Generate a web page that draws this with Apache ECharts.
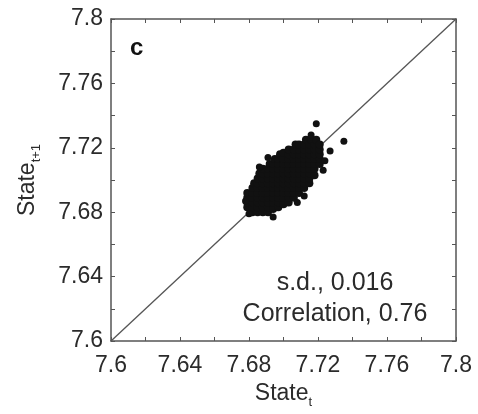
<!DOCTYPE html>
<html>
<head>
<meta charset="utf-8">
<script src="https://cdn.jsdelivr.net/npm/echarts@6/dist/echarts.min.js"></script>
<style>
  html, body { margin:0; padding:0; background:#fff; }
  #chart { width:478px; height:414px; }
</style>
</head>
<body>
<div id="chart"></div>
<script>
// axis range and ticks
var axisMin = 7.6;
var axisMax = 7.8;
var tickStep = 0.04;

// dense core of the cloud
var cloud = [
  [7.679,7.683],[7.679,7.686],[7.679,7.689],[7.679,7.692],
  [7.682,7.680],[7.682,7.683],[7.682,7.686],[7.682,7.689],[7.682,7.692],[7.682,7.695],[7.683,7.698],
  [7.685,7.680],[7.685,7.683],[7.685,7.686],[7.685,7.689],[7.685,7.692],[7.685,7.695],[7.685,7.698],[7.685,7.701],[7.686,7.704],
  [7.688,7.680],[7.688,7.683],[7.688,7.686],[7.688,7.689],[7.688,7.692],[7.688,7.695],[7.688,7.698],[7.688,7.701],[7.688,7.704],[7.688,7.707],
  [7.691,7.680],[7.691,7.683],[7.691,7.686],[7.691,7.689],[7.691,7.692],[7.691,7.695],[7.691,7.698],[7.691,7.701],[7.691,7.704],[7.691,7.707],[7.692,7.710],
  [7.694,7.682],[7.694,7.686],[7.694,7.689],[7.694,7.692],[7.694,7.695],[7.694,7.698],[7.694,7.701],[7.694,7.704],[7.694,7.707],[7.694,7.710],[7.695,7.713],
  [7.697,7.683],[7.697,7.686],[7.697,7.689],[7.697,7.692],[7.697,7.695],[7.697,7.698],[7.697,7.701],[7.697,7.704],[7.697,7.707],[7.697,7.710],[7.697,7.713],[7.698,7.716],
  [7.700,7.685],[7.700,7.689],[7.700,7.692],[7.700,7.695],[7.700,7.698],[7.700,7.701],[7.700,7.704],[7.700,7.707],[7.700,7.710],[7.700,7.713],[7.700,7.717],
  [7.703,7.686],[7.703,7.689],[7.703,7.692],[7.703,7.695],[7.703,7.698],[7.703,7.701],[7.703,7.704],[7.703,7.707],[7.703,7.710],[7.703,7.713],[7.703,7.716],[7.703,7.719],
  [7.706,7.689],[7.706,7.692],[7.706,7.695],[7.706,7.698],[7.706,7.701],[7.706,7.704],[7.706,7.707],[7.706,7.710],[7.706,7.713],[7.706,7.716],[7.706,7.719],[7.707,7.722],
  [7.709,7.692],[7.709,7.695],[7.709,7.698],[7.709,7.701],[7.709,7.704],[7.709,7.707],[7.709,7.710],[7.709,7.713],[7.709,7.716],[7.709,7.719],[7.709,7.722],
  [7.712,7.695],[7.712,7.698],[7.712,7.701],[7.712,7.704],[7.712,7.707],[7.712,7.710],[7.712,7.713],[7.712,7.716],[7.712,7.719],[7.712,7.722],[7.713,7.725],
  [7.715,7.698],[7.715,7.701],[7.715,7.704],[7.715,7.707],[7.715,7.710],[7.715,7.713],[7.715,7.716],[7.715,7.719],[7.715,7.722],[7.716,7.725],
  [7.718,7.703],[7.718,7.707],[7.718,7.710],[7.718,7.713],[7.718,7.716],[7.718,7.719],[7.718,7.722],[7.719,7.725],
  [7.721,7.710],[7.721,7.713],[7.721,7.716],[7.721,7.719],[7.721,7.722]
];

// scattered points around the edge
var outliers = [
  [7.735,7.724],[7.719,7.735],[7.694,7.677],[7.708,7.686],[7.691,7.714],
  [7.727,7.718],[7.716,7.728],[7.678,7.687],[7.724,7.712],[7.686,7.708],
  [7.712,7.690],[7.680,7.679],[7.723,7.706]
];

// identity line
var diagonal = [[7.6,7.6],[7.8,7.8]];

var notes = ['s.d., 0.016', 'Correlation, 0.76'];

var axisColor = '#555';
var textColor = '#2b2b2b';
var font = 'Liberation Sans, Arial, sans-serif';

function baseAxis(extra){
  var ax = {
    type:'value',
    min:axisMin,
    max:axisMax,
    interval:tickStep,
    axisLine:{ show:true, lineStyle:{ color:axisColor, width:1.5 } },
    axisTick:{ show:true, inside:true, length:4, lineStyle:{ color:axisColor } },
    minorTick:{ show:true, splitNumber:2, length:4, lineStyle:{ color:axisColor } },
    splitLine:{ show:false },
    axisLabel:{ show:false }
  };
  for (var k in extra) ax[k] = extra[k];
  return ax;
}

var chart = echarts.init(document.getElementById('chart'));
chart.setOption({
  backgroundColor:'#fff',
  animation:false,
  grid:{ left:111, right:22, top:19, bottom:72 },
  xAxis:[
    baseAxis({
      position:'bottom',
      axisLabel:{ show:true, color:textColor, fontSize:23, fontFamily:font, margin:13 },
      name:'{a|State}{b|t}',
      nameLocation:'middle',
      nameGap:38,
      nameTextStyle:{
        rich:{
          a:{ fontSize:23, color:textColor, fontFamily:font, lineHeight:30 },
          b:{ fontSize:13, color:textColor, fontFamily:font, lineHeight:14, verticalAlign:'bottom' }
        }
      }
    }),
    baseAxis({ position:'top' })
  ],
  yAxis:[
    baseAxis({
      position:'left',
      axisLabel:{ show:true, color:textColor, fontSize:23, fontFamily:font, margin:8 },
      name:'{a|State}{b|t+1}',
      nameLocation:'middle',
      nameGap:68,
      nameTextStyle:{
        rich:{
          a:{ fontSize:23, color:textColor, fontFamily:font, lineHeight:30 },
          b:{ fontSize:13, color:textColor, fontFamily:font, lineHeight:14, verticalAlign:'bottom' }
        }
      }
    }),
    baseAxis({ position:'right' })
  ],
  graphic:[
    { type:'text', left:130, top:36,
      style:{ text:'c', fontSize:24, fontWeight:'bold', fill:'#111', fontFamily:font } },
    { type:'text', x:335, y:268, z:10,
      style:{ text:notes[0] + '\n' + notes[1], fontSize:25, lineHeight:31,
              fill:textColor, fontFamily:font, align:'center', verticalAlign:'top' } }
  ],
  series:[
    {
      type:'line',
      data:diagonal,
      symbol:'none',
      lineStyle:{ color:'#555', width:1.3 },
      z:1
    },
    {
      type:'scatter',
      data:cloud,
      symbolSize:8,
      itemStyle:{ color:'#111', opacity:1 },
      z:2
    },
    {
      type:'scatter',
      data:outliers,
      symbolSize:7,
      itemStyle:{ color:'#111', opacity:1 },
      z:2
    }
  ]
});
</script>
</body>
</html>
